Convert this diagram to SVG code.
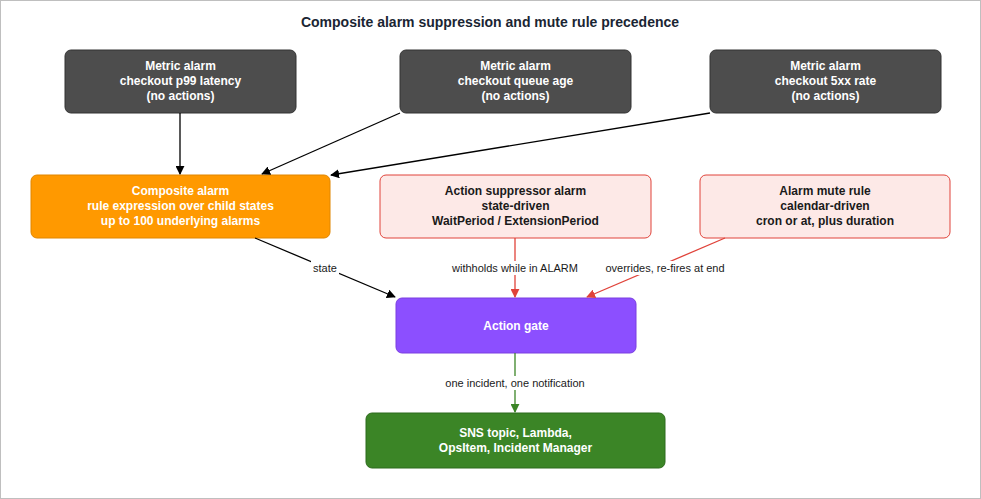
<svg xmlns="http://www.w3.org/2000/svg" width="981" height="499" viewBox="0 0 981 499">
<style>
text{font-family:"Liberation Sans",Arial,sans-serif;text-anchor:middle}
.t{font-size:12px;font-weight:bold}
.w{fill:#fff}.d{fill:#1a1a1a}
.lbl{font-size:11px;fill:#1a1a1a}
.lb{fill:#fff}
.c{fill:none;stroke-width:1.3}
</style>
<defs>
<marker id="ak" viewBox="0 0 10 10" refX="9" refY="5" markerWidth="9" markerHeight="9" orient="auto" markerUnits="userSpaceOnUse"><path d="M0,0L10,5L0,10z" fill="#000"/></marker>
<marker id="ar" viewBox="0 0 10 10" refX="9" refY="5" markerWidth="9" markerHeight="9" orient="auto" markerUnits="userSpaceOnUse"><path d="M0,0L10,5L0,10z" fill="#e0433a"/></marker>
<marker id="ag" viewBox="0 0 10 10" refX="9" refY="5" markerWidth="9" markerHeight="9" orient="auto" markerUnits="userSpaceOnUse"><path d="M0,0L10,5L0,10z" fill="#3b8526"/></marker>
</defs>
<rect x="0.5" y="0.5" width="980" height="498" fill="#fff" stroke="#bfbfbf"/>
<text x="490" y="27" style="font-size:14px;font-weight:bold" fill="#1a2533">Composite alarm suppression and mute rule precedence</text>
<g id="m1"><rect x="65" y="50" width="231" height="63" rx="6" fill="#4d4d4d" stroke="#333"/><text class="t w" x="180.5" y="70">Metric alarm</text><text class="t w" x="180.5" y="85">checkout p99 latency</text><text class="t w" x="180.5" y="100">(no actions)</text></g>
<g id="m2"><rect x="400" y="50" width="231" height="63" rx="6" fill="#4d4d4d" stroke="#333"/><text class="t w" x="515.5" y="70">Metric alarm</text><text class="t w" x="515.5" y="85">checkout queue age</text><text class="t w" x="515.5" y="100">(no actions)</text></g>
<g id="m3"><rect x="710" y="50" width="231" height="63" rx="6" fill="#4d4d4d" stroke="#333"/><text class="t w" x="825.5" y="70">Metric alarm</text><text class="t w" x="825.5" y="85">checkout 5xx rate</text><text class="t w" x="825.5" y="100">(no actions)</text></g>
<g id="comp"><rect x="31" y="175" width="299" height="63" rx="6" fill="#ff9900" stroke="#e08600"/><text class="t w" x="180.5" y="195">Composite alarm</text><text class="t w" x="180.5" y="210">rule expression over child states</text><text class="t w" x="180.5" y="225">up to 100 underlying alarms</text></g>
<g id="supp"><rect x="380" y="175" width="271" height="63" rx="6" fill="#fde9e7" stroke="#e0433a"/><text class="t d" x="515.5" y="195">Action suppressor alarm</text><text class="t d" x="515.5" y="210">state-driven</text><text class="t d" x="515.5" y="225">WaitPeriod / ExtensionPeriod</text></g>
<g id="mute"><rect x="700" y="175" width="250" height="63" rx="6" fill="#fde9e7" stroke="#e0433a"/><text class="t d" x="825" y="195">Alarm mute rule</text><text class="t d" x="825" y="210">calendar-driven</text><text class="t d" x="825" y="225">cron or at, plus duration</text></g>
<g id="gate"><rect x="396" y="298" width="240" height="55" rx="6" fill="#8c4fff" stroke="#7a3ee0"/><text class="t w" x="516" y="330">Action gate</text></g>
<g id="sns"><rect x="366" y="413" width="299" height="55" rx="6" fill="#3b8526" stroke="#2d6b1c"/><text class="t w" x="515.5" y="437">SNS topic, Lambda,</text><text class="t w" x="515.5" y="452">OpsItem, Incident Manager</text></g>
<g id="connectors">
<path class="c" stroke="#000" d="M180,113V174" marker-end="url(#ak)"/>
<path class="c" stroke="#000" d="M400,113L262,174" marker-end="url(#ak)"/>
<path class="c" stroke="#000" d="M710,113L331,175" marker-end="url(#ak)"/>
<path class="c" stroke="#000" d="M255,238L395,297" marker-end="url(#ak)"/>
<path class="c" stroke="#e0433a" d="M515,238V297" marker-end="url(#ar)"/>
<path class="c" stroke="#e0433a" d="M725,238L587,297" marker-end="url(#ar)"/>
<path class="c" stroke="#3b8526" d="M515,353V412" marker-end="url(#ag)"/>
<rect class="lb" x="311" y="261" width="28" height="14"/><text class="lbl" x="325" y="272">state</text>
<rect class="lb" x="451" y="261" width="128" height="14"/><text class="lbl" x="515" y="272">withholds while in ALARM</text>
<rect class="lb" x="603" y="261" width="124" height="14"/><text class="lbl" x="665" y="272">overrides, re-fires at end</text>
<rect class="lb" x="443" y="376" width="144" height="14"/><text class="lbl" x="515" y="387">one incident, one notification</text>
</g>
</svg>
